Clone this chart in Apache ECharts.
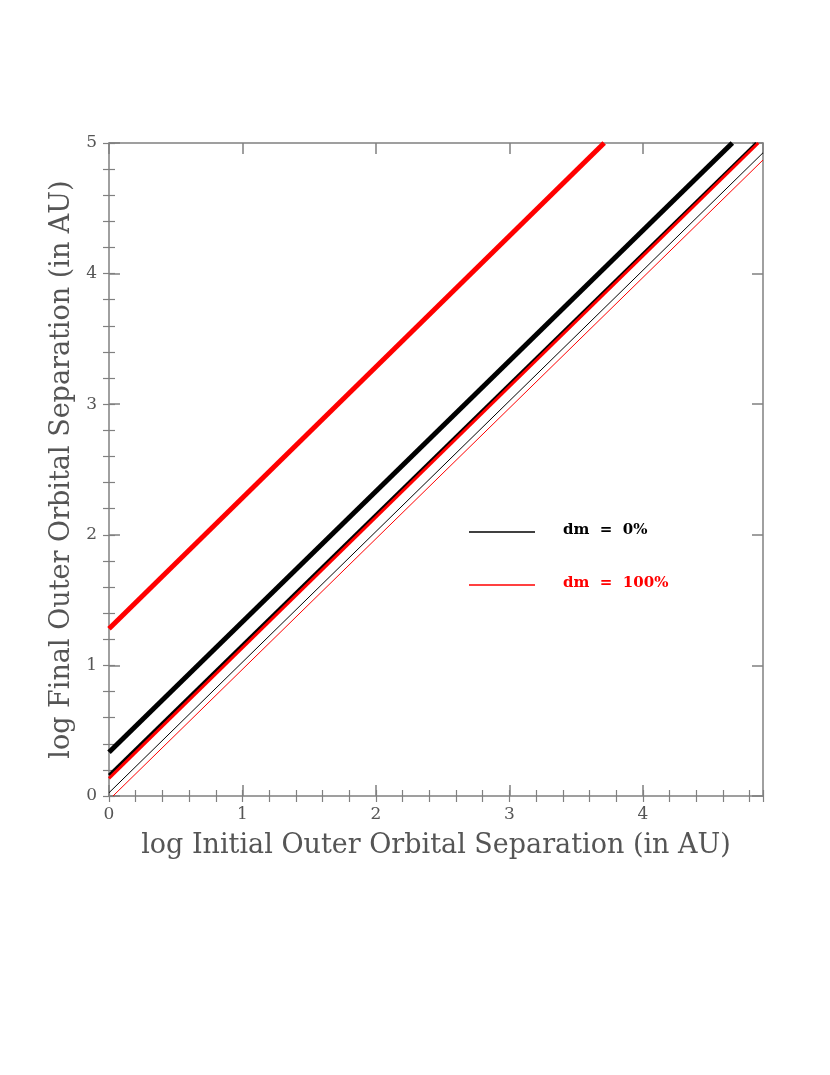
<!DOCTYPE html>
<html>
<head>
<meta charset="utf-8">
<script src="https://cdn.jsdelivr.net/npm/echarts@6/dist/echarts.min.js"></script>
<style>
  html, body { margin: 0; padding: 0; background: #fff; }
  #chart { width: 830px; height: 1075px; }
</style>
</head>
<body>
<div id="chart"></div>
<script>
// endpoints of each straight track, [log a_initial, log a_final]
const thickRed = [[0, 1.28], [3.71, 5]]
const thickBlack = [[0, 0.335], [4.67, 5]]
const midBlack = [[0, 0.16], [4.85, 5]]
const midRed = [[0, 0.135], [4.865, 5]]
const thinBlack = [[0, 0.025], [4.9, 4.925]]
const thinRed = [[0.03, 0], [4.9, 4.87]]

const xTicks = ['0', '1', '2', '3', '4']
const yTicks = ['0', '1', '2', '3', '4', '5']

const chart = echarts.init(document.getElementById('chart'))

const frame = '#808080'
const textGray = '#555'
const serif = 'DejaVu Serif'

const majorX = (pos, showLabel) => ({
  type: 'value', position: pos, min: 0, max: 4.9, interval: 1,
  axisLine: { show: true, onZero: false, lineStyle: { color: frame, width: 1.5 } },
  axisTick: { show: true, inside: true, length: 11, lineStyle: { color: frame, width: 1.5 } },
  axisLabel: {
    show: showLabel, margin: 10, color: textGray, fontFamily: serif, fontSize: 17,
    showMaxLabel: false,
    formatter: v => xTicks.includes(String(v)) ? String(v) : ''
  },
  splitLine: { show: false },
  name: showLabel ? 'log Initial Outer Orbital Separation (in AU)' : '',
  nameLocation: 'middle', nameGap: 36,
  nameTextStyle: { color: textGray, fontFamily: serif, fontSize: 27 }
})
const minorX = pos => ({
  type: 'value', position: pos, min: 0, max: 4.9, interval: 0.2,
  axisLine: { show: false },
  axisTick: { show: true, inside: true, length: 6, lineStyle: { color: frame, width: 1.2 } },
  axisLabel: { show: false }, splitLine: { show: false }
})
const majorY = (pos, showLabel) => ({
  type: 'value', position: pos, min: 0, max: 5, interval: 1,
  axisLine: { show: true, onZero: false, lineStyle: { color: frame, width: 1.5 } },
  axisTick: { show: true, inside: true, length: 11, lineStyle: { color: frame, width: 1.5 } },
  axisLabel: {
    show: showLabel, margin: 12, color: textGray, fontFamily: serif, fontSize: 17,
    formatter: v => yTicks.includes(String(v)) ? String(v) : ''
  },
  splitLine: { show: false },
  name: showLabel ? 'log Final Outer Orbital Separation (in AU)' : '',
  nameLocation: 'middle', nameGap: 29,
  nameTextStyle: { color: textGray, fontFamily: serif, fontSize: 27 }
})
const minorY = pos => ({
  type: 'value', position: pos, min: 0, max: 5, interval: 0.2,
  axisLine: { show: false },
  axisTick: { show: true, inside: true, length: 6, lineStyle: { color: frame, width: 1.2 } },
  axisLabel: { show: false }, splitLine: { show: false }
})

const track = (data, color, width) => ({
  type: 'line', data: data, xAxisIndex: 0, yAxisIndex: 0,
  showSymbol: false, symbol: 'none', silent: true, animation: false,
  lineStyle: { color: color, width: width }
})

const option = {
  animation: false,
  grid: { left: 109, top: 143, right: 67, bottom: 279 },
  xAxis: [majorX('bottom', true), minorX('bottom'), majorX('top', false), minorX('top')],
  yAxis: [majorY('left', true), minorY('left'), majorY('right', false), minorY('right')],
  series: [
    track(thinBlack, '#000', 1),
    track(thinRed, '#ff0000', 1),
    track(midBlack, '#000', 3),
    track(midRed, '#ff0000', 3),
    track(thickBlack, '#000', 5),
    track(thickRed, '#ff0000', 5)
  ],
  graphic: [
    { type: 'line', shape: { x1: 469, y1: 532, x2: 535, y2: 532 }, style: { stroke: '#000', lineWidth: 1.5 } },
    { type: 'text', left: 563, top: 523, style: { text: 'dm  =  0%', fill: '#000', font: 'bold 15px "DejaVu Serif"' } },
    { type: 'line', shape: { x1: 469, y1: 585, x2: 535, y2: 585 }, style: { stroke: '#ff0000', lineWidth: 1.5 } },
    { type: 'text', left: 563, top: 576, style: { text: 'dm  =  100%', fill: '#ff0000', font: 'bold 15px "DejaVu Serif"' } }
  ]
}

chart.setOption(option)
</script>
</body>
</html>
